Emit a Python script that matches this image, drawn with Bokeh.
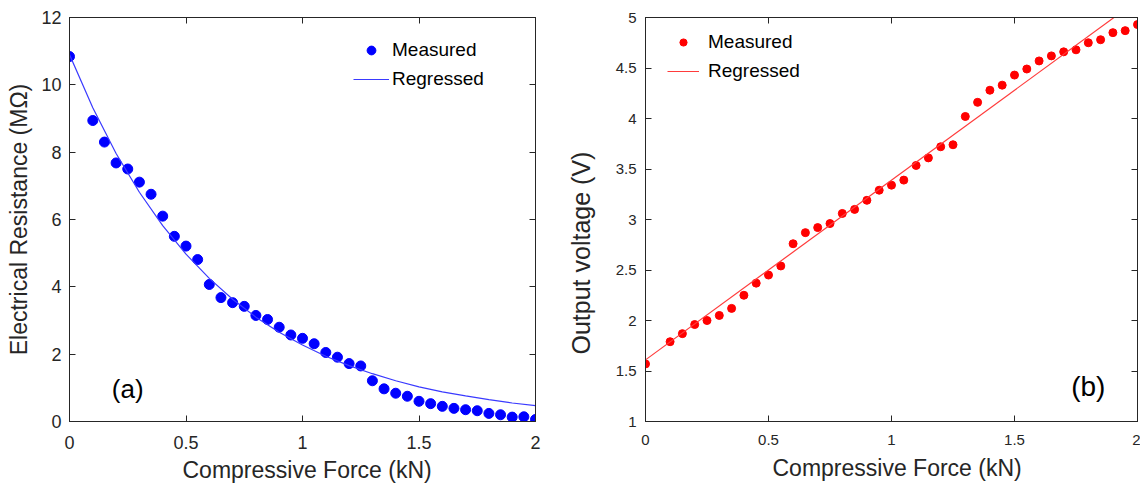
from bokeh.plotting import figure
from bokeh.models import Legend, LegendItem, LinearAxis, Label, FixedTicker, Range1d, Title
from bokeh.layouts import row
from bokeh.embed import file_html
from bokeh.resources import INLINE

# ---------------- data ----------------
force = [0, 0.1, 0.15, 0.2, 0.25, 0.3, 0.35, 0.4, 0.45, 0.5,
         0.55, 0.6, 0.65, 0.7, 0.75, 0.8, 0.85, 0.9, 0.95, 1.0,
         1.05, 1.1, 1.15, 1.2, 1.25, 1.3, 1.35, 1.4, 1.45, 1.5,
         1.55, 1.6, 1.65, 1.7, 1.75, 1.8, 1.85, 1.9, 1.95, 2.0]

resistance = [10.84, 8.94, 8.30, 7.68, 7.50, 7.11, 6.75, 6.10, 5.50, 5.21,
              4.81, 4.07, 3.68, 3.53, 3.42, 3.15, 3.03, 2.80, 2.57, 2.47,
              2.31, 2.05, 1.91, 1.72, 1.65, 1.21, 0.97, 0.84, 0.75, 0.60,
              0.53, 0.45, 0.39, 0.35, 0.32, 0.24, 0.20, 0.13, 0.14, 0.06]

voltage = [1.57, 1.79, 1.87, 1.96, 2.00, 2.05, 2.12, 2.25, 2.37, 2.45,
           2.54, 2.76, 2.87, 2.92, 2.96, 3.06, 3.10, 3.19, 3.29, 3.34,
           3.39, 3.535, 3.61, 3.72, 3.74, 4.02, 4.16, 4.28, 4.33, 4.43,
           4.49, 4.57, 4.62, 4.66, 4.68, 4.75, 4.78, 4.85, 4.87, 4.93]

reg_force_a = [0, 0.1, 0.2, 0.3, 0.4, 0.5, 0.6, 0.7, 0.8, 0.9, 1.0,
               1.1, 1.2, 1.3, 1.4, 1.5, 1.6, 1.7, 1.8, 1.9, 2.0]
reg_resistance = [10.90, 9.32, 7.96, 6.81, 5.82, 4.97, 4.25, 3.63, 3.10, 2.65, 2.27,
                  1.94, 1.66, 1.42, 1.21, 1.03, 0.88, 0.76, 0.65, 0.55, 0.47]

reg_force_b = [0, 2]
reg_voltage = [1.61, 5.17]

x_ticks = [0, 0.5, 1, 1.5, 2]
x_tick_labels = ["0", "0.5", "1", "1.5", "2"]
ya_ticks = [0, 2, 4, 6, 8, 10, 12]
ya_tick_labels = ["0", "2", "4", "6", "8", "10", "12"]
yb_ticks = [1, 1.5, 2, 2.5, 3, 3.5, 4, 4.5, 5]
yb_tick_labels = ["1", "1.5", "2", "2.5", "3", "3.5", "4", "4.5", "5"]

FONT = "Liberation Sans"
AX = "#262626"


def style_axis(ax, ticks, labels, size, standoff):
    ax.ticker = FixedTicker(ticks=ticks)
    ax.major_label_overrides = {t: l for t, l in zip(ticks, labels)}
    ax.major_tick_in = 6
    ax.major_tick_out = 0
    ax.minor_tick_in = 0
    ax.minor_tick_out = 0
    ax.axis_line_color = AX
    ax.major_tick_line_color = AX
    ax.major_label_text_font = FONT
    ax.major_label_text_font_size = size
    ax.major_label_text_color = AX
    ax.major_label_standoff = standoff


def side_title(p, text, size, side, **kw):
    t = Title(text=text, text_font=FONT, text_font_size=size, text_font_style="normal",
              text_color=AX, **kw)
    p.add_layout(t, side)


def hidden_axis(ticks):
    ax = LinearAxis(ticker=FixedTicker(ticks=ticks))
    ax.major_tick_in = 6
    ax.major_tick_out = 0
    ax.minor_tick_in = 0
    ax.minor_tick_out = 0
    ax.axis_line_color = AX
    ax.major_tick_line_color = AX
    ax.major_label_text_alpha = 0
    ax.major_label_text_font_size = "1px"
    ax.major_label_standoff = 0
    return ax


def make_fig(width, bl, br, bt, bb, yr):
    p = figure(width=width, height=486, x_range=Range1d(0, 2), y_range=Range1d(*yr),
               output_backend="svg", toolbar_location=None,
               min_border_left=bl, min_border_right=br,
               min_border_top=bt, min_border_bottom=bb)
    p.grid.visible = False
    p.outline_line_color = AX
    p.outline_line_width = 1
    p.background_fill_color = "white"
    p.border_fill_color = "white"
    return p


def make_legend(sc, ln, loc, standoff, gw, gh):
    leg = Legend(items=[LegendItem(label="Measured", renderers=[sc]),
                        LegendItem(label="Regressed", renderers=[ln])],
                 location=loc)
    leg.border_line_color = None
    leg.background_fill_alpha = 0
    leg.padding = 0
    leg.margin = 0
    leg.spacing = 0
    leg.glyph_width = gw
    leg.glyph_height = gh
    leg.label_height = 29
    leg.label_standoff = standoff
    leg.label_text_font = FONT
    leg.label_text_font_size = "19px"
    leg.label_text_color = "black"
    return leg


# ---------------- panel (a) ----------------
pa = make_fig(545, 69, 10, 17, 65, (0, 12))
sa = pa.scatter(force, resistance, size=10, color="#0000FF", line_color="#0000FF")
la = pa.line(reg_force_a, reg_resistance, line_color="#3a3aff", line_width=1.2)
style_axis(pa.xaxis[0], x_ticks, x_tick_labels, "18px", 14)
style_axis(pa.yaxis[0], ya_ticks, ya_tick_labels, "18px", 8)
ya = pa.yaxis[0]
ya.axis_label = "Electrical Resistance (MΩ)"
ya.axis_label_text_font = FONT
ya.axis_label_text_font_size = "23px"
ya.axis_label_text_font_style = "normal"
ya.axis_label_text_color = AX
ya.axis_label_standoff = 6
pa.add_layout(hidden_axis(x_ticks), "above")
pa.add_layout(hidden_axis(ya_ticks), "right")
side_title(pa, "Compressive Force (kN)", "23px", "below",
           align="left", offset=113, vertical_align="bottom", standoff=7)
pa.add_layout(make_legend(sa, la, (284, 328), 3, 36, 22))
pa.add_layout(Label(x=0.25, y=0.98, text="(a)", text_align="center", text_baseline="middle",
                    text_font=FONT, text_font_size="26px", text_color="black"))

# ---------------- panel (b) ----------------
pb = make_fig(595, 100, 3, 16, 64, (1, 5))
sb = pb.scatter(force, voltage, size=8, color="#FF0000", line_color="#FF0000")
lb = pb.line(reg_force_b, reg_voltage, line_color="#ff3b3b", line_width=1.2)
style_axis(pb.xaxis[0], x_ticks, x_tick_labels, "15px", 13)
style_axis(pb.yaxis[0], yb_ticks, yb_tick_labels, "15px", 9)
pb.add_layout(hidden_axis(x_ticks), "above")
pb.add_layout(hidden_axis(yb_ticks), "right")
side_title(pb, "Compressive Force (kN)", "23px", "below",
           align="left", offset=127, vertical_align="bottom", standoff=10)
side_title(pb, "Output voltage (V)", "25px", "left",
           align="left", offset=67, vertical_align="middle", standoff=33)
pb.add_layout(make_legend(sb, lb, (22, 336), 9, 32, 18))
pb.add_layout(Label(x=1.80, y=1.35, text="(b)", text_align="center", text_baseline="middle",
                    text_font=FONT, text_font_size="28px", text_color="black"))

layout = row(pa, pb, spacing=0)
open("out.html", "w").write(file_html(layout, INLINE))
